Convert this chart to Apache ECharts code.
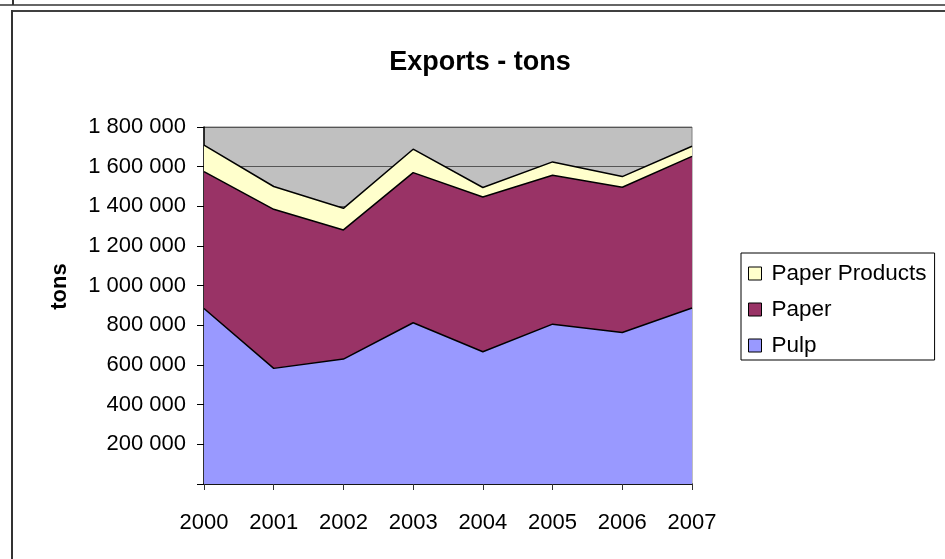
<!DOCTYPE html>
<html>
<head>
<meta charset="utf-8">
<script src="https://cdn.jsdelivr.net/npm/echarts@6/dist/echarts.min.js"></script>
<style>
html,body{margin:0;padding:0;background:#fff;}
#chart{width:945px;height:559px;}
</style>
</head>
<body>
<div id="chart"></div>
<script>
var years = ['2000','2001','2002','2003','2004','2005','2006','2007'];
var pulp = [885000, 583000, 630000, 813000, 667000, 806000, 764000, 887000];
var paper = [690000, 802000, 651000, 757000, 780000, 751000, 732000, 765000];
var paperProducts = [134000, 115000, 109000, 118000, 48000, 67000, 54000, 51000];
var yTicks = [0, 1800000, 200000]; // min, max, interval

var FONT = '"Liberation Sans", Arial, sans-serif';
var chart = echarts.init(document.getElementById('chart'), null, {renderer: 'canvas'});

function fmt(v) {
  if (v === 0) return '';
  return String(v).replace(/\B(?=(\d{3})+(?!\d))/g, ' ');
}

function areaSeries(name, data, color) {
  return {
    name: name,
    type: 'line',
    stack: 'total',
    data: data,
    showSymbol: false,
    symbol: 'none',
    smooth: false,
    lineStyle: {color: '#000', width: 1.5},
    itemStyle: {color: color},
    areaStyle: {color: color, opacity: 1},
    emphasis: {disabled: true},
    animation: false
  };
}

chart.setOption({
  animation: false,
  textStyle: {fontFamily: FONT},
  title: {
    text: 'Exports - tons',
    left: 475,
    textAlign: 'center',
    top: 44,
    textStyle: {fontFamily: FONT, fontSize: 27, fontWeight: 'bold', color: '#000'}
  },
  legend: {
    orient: 'vertical',
    left: 741,
    top: 253,
    padding: [9, 8, 3, 7],
    itemGap: 13,
    itemWidth: 13,
    itemHeight: 13,
    icon: 'rect',
    borderColor: '#000',
    borderWidth: 1,
    backgroundColor: '#fff',
    data: ['Paper Products', 'Paper', 'Pulp'],
    itemStyle: {borderColor: '#000', borderWidth: 1},
    textStyle: {fontFamily: FONT, fontSize: 22.5, color: '#000', lineHeight: 22, padding: [0, 0, 0, 5]}
  },
  grid: {
    left: 204,
    top: 127,
    right: 253,
    bottom: 75,
    show: true,
    backgroundColor: '#C0C0C0',
    borderColor: '#808080',
    borderWidth: 1,
    containLabel: false
  },
  xAxis: {
    type: 'category',
    data: years,
    boundaryGap: false,
    axisLine: {lineStyle: {color: '#000', width: 1.5}},
    axisTick: {show: true, length: 6, alignWithLabel: true, lineStyle: {color: '#333'}},
    axisLabel: {margin: 28, fontFamily: FONT, fontSize: 22, color: '#000'},
    splitLine: {show: false}
  },
  yAxis: {
    type: 'value',
    min: yTicks[0],
    max: yTicks[1],
    interval: yTicks[2],
    name: 'tons',
    nameLocation: 'middle',
    nameGap: 133,
    nameRotate: 90,
    nameTextStyle: {fontFamily: FONT, fontSize: 22, fontWeight: 'bold', color: '#000', padding: [0, 0, 0, 38]},
    axisLine: {show: true, lineStyle: {color: '#000', width: 1.5}},
    axisTick: {show: true, length: 7, lineStyle: {color: '#000'}},
    axisLabel: {margin: 18, fontFamily: FONT, fontSize: 22, color: '#000', formatter: fmt},
    splitLine: {show: true, lineStyle: {color: '#555', width: 1}}
  },
  series: [
    areaSeries('Pulp', pulp, '#9999FF'),
    areaSeries('Paper', paper, '#993366'),
    areaSeries('Paper Products', paperProducts, '#FFFFCC')
  ],
  graphic: [
    {type: 'line', shape: {x1: 0, y1: 5, x2: 945, y2: 5}, style: {stroke: '#333', lineWidth: 1.5}, silent: true},
    {type: 'line', shape: {x1: 13, y1: 0, x2: 13, y2: 5}, style: {stroke: '#333', lineWidth: 2}, silent: true},
    {type: 'line', shape: {x1: 12, y1: 11, x2: 945, y2: 11}, style: {stroke: '#404040', lineWidth: 2}, silent: true},
    {type: 'line', shape: {x1: 12, y1: 10, x2: 12, y2: 559}, style: {stroke: '#333', lineWidth: 2}, silent: true}
  ]
});
</script>
</body>
</html>
